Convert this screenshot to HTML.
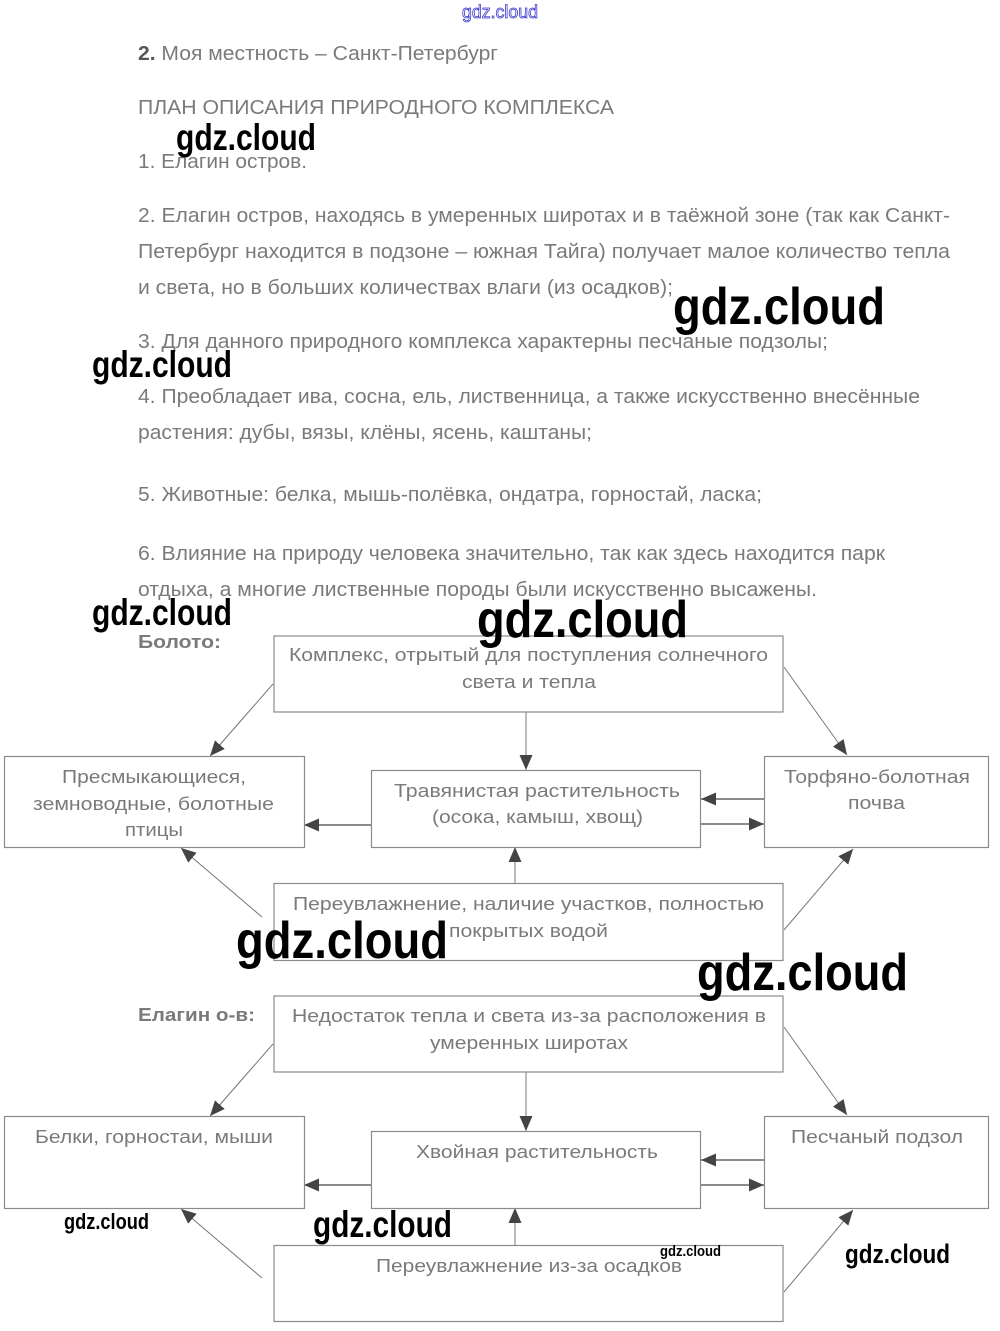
<!DOCTYPE html>
<html><head><meta charset="utf-8"><style>
html,body{margin:0;padding:0;background:#fff;}
svg{display:block;}
text{font-family:"Liberation Sans","DejaVu Sans",sans-serif;}
.b{fill:#7a7a7a;font-size:20px;}
.d{fill:#7a7a7a;font-size:18px;}
.w{fill:#000;font-weight:bold;}
.box{fill:#fff;stroke:#8a8a8a;stroke-width:1.2;}
.ln{stroke:#777;stroke-width:1;fill:none;}
.lh{stroke:#666;stroke-width:1.4;fill:none;}
</style></head><body>
<svg width="1000" height="1331" viewBox="0 0 1000 1331" xmlns="http://www.w3.org/2000/svg">
<defs>
<marker id="ah" markerUnits="userSpaceOnUse" markerWidth="16" markerHeight="14" refX="15" refY="6.5" orient="auto">
<path d="M0,0 L15,6.5 L0,13 z" fill="#444"/>
</marker>
</defs>
<rect width="1000" height="1331" fill="#fff"/>

<!-- top blue watermark -->
<text x="462" y="18" font-size="18" fill="#fff" stroke="#3a3acc" stroke-width="0.8" textLength="76" lengthAdjust="spacingAndGlyphs">gdz.cloud</text>

<!-- body text -->
<text class="b" x="138" y="60" textLength="360" lengthAdjust="spacingAndGlyphs"><tspan font-weight="bold" fill="#555">2.</tspan> Моя местность – Санкт-Петербург</text>
<text class="b" x="138" y="114" textLength="476" lengthAdjust="spacingAndGlyphs">ПЛАН ОПИСАНИЯ ПРИРОДНОГО КОМПЛЕКСА</text>
<text class="b" x="138" y="168" textLength="169" lengthAdjust="spacingAndGlyphs">1. Елагин остров.</text>
<text class="b" x="138" y="222" textLength="812" lengthAdjust="spacingAndGlyphs">2. Елагин остров, находясь в умеренных широтах и в таёжной зоне (так как Санкт-</text>
<text class="b" x="138" y="258" textLength="812" lengthAdjust="spacingAndGlyphs">Петербург находится в подзоне – южная Тайга) получает малое количество тепла</text>
<text class="b" x="138" y="294" textLength="535" lengthAdjust="spacingAndGlyphs">и света, но в больших количествах влаги (из осадков);</text>
<text class="b" x="138" y="348" textLength="690" lengthAdjust="spacingAndGlyphs">3. Для данного природного комплекса характерны песчаные подзолы;</text>
<text class="b" x="138" y="403" textLength="782" lengthAdjust="spacingAndGlyphs">4. Преобладает ива, сосна, ель, лиственница, а также искусственно внесённые</text>
<text class="b" x="138" y="439" textLength="454" lengthAdjust="spacingAndGlyphs">растения: дубы, вязы, клёны, ясень, каштаны;</text>
<text class="b" x="138" y="501" textLength="624" lengthAdjust="spacingAndGlyphs">5. Животные: белка, мышь-полёвка, ондатра, горностай, ласка;</text>
<text class="b" x="138" y="560" textLength="747" lengthAdjust="spacingAndGlyphs">6. Влияние на природу человека значительно, так как здесь находится парк</text>
<text class="b" x="138" y="596" textLength="679" lengthAdjust="spacingAndGlyphs">отдыха, а многие лиственные породы были искусственно высажены.</text>

<!-- ===== Diagram 1: Болото ===== -->
<text class="d" x="138" y="648" font-weight="bold" fill="#777" textLength="83" lengthAdjust="spacingAndGlyphs">Болото:</text>

<!-- connectors -->
<line class="ln" x1="273" y1="684" x2="210" y2="756" marker-end="url(#ah)"/>
<line class="ln" x1="784" y1="667" x2="847" y2="755" marker-end="url(#ah)"/>
<line class="ln" x1="262" y1="917" x2="181" y2="848" marker-end="url(#ah)"/>
<line class="ln" x1="784" y1="930" x2="853" y2="849" marker-end="url(#ah)"/>
<line class="ln" x1="526" y1="712" x2="526" y2="770" marker-end="url(#ah)"/>
<line class="ln" x1="515" y1="883" x2="515" y2="847" marker-end="url(#ah)"/>
<line class="lh" x1="371" y1="825" x2="304" y2="825" marker-end="url(#ah)"/>
<line class="lh" x1="764" y1="799" x2="701" y2="799" marker-end="url(#ah)"/>
<line class="lh" x1="701" y1="824" x2="764" y2="824" marker-end="url(#ah)"/>

<!-- boxes -->
<rect class="box" x="274" y="636" width="509" height="76"/>
<rect class="box" x="4.5" y="756.5" width="300" height="91"/>
<rect class="box" x="371.5" y="770.5" width="329" height="77"/>
<rect class="box" x="764.5" y="756.5" width="224" height="91"/>
<rect class="box" x="274" y="883.5" width="509" height="77"/>

<text class="d" x="289" y="661" textLength="479" lengthAdjust="spacingAndGlyphs">Комплекс, отрытый для поступления солнечного</text>
<text class="d" x="462" y="688" textLength="134" lengthAdjust="spacingAndGlyphs">света и тепла</text>
<text class="d" x="62" y="783" textLength="184" lengthAdjust="spacingAndGlyphs">Пресмыкающиеся,</text>
<text class="d" x="33" y="810" textLength="241" lengthAdjust="spacingAndGlyphs">земноводные, болотные</text>
<text class="d" x="125" y="836" textLength="58" lengthAdjust="spacingAndGlyphs">птицы</text>
<text class="d" x="394" y="797" textLength="286" lengthAdjust="spacingAndGlyphs">Травянистая растительность</text>
<text class="d" x="432" y="823" textLength="211" lengthAdjust="spacingAndGlyphs">(осока, камыш, хвощ)</text>
<text class="d" x="784" y="783" textLength="186" lengthAdjust="spacingAndGlyphs">Торфяно-болотная</text>
<text class="d" x="848" y="809" textLength="57" lengthAdjust="spacingAndGlyphs">почва</text>
<text class="d" x="293" y="910" textLength="471" lengthAdjust="spacingAndGlyphs">Переувлажнение, наличие участков, полностью</text>
<text class="d" x="449" y="937" textLength="159" lengthAdjust="spacingAndGlyphs">покрытых водой</text>

<!-- ===== Diagram 2: Елагин о-в ===== -->
<text class="d" x="138" y="1021" font-weight="bold" fill="#777" textLength="117" lengthAdjust="spacingAndGlyphs">Елагин о-в:</text>

<line class="ln" x1="273" y1="1044" x2="210" y2="1116" marker-end="url(#ah)"/>
<line class="ln" x1="784" y1="1027" x2="847" y2="1115" marker-end="url(#ah)"/>
<line class="ln" x1="262" y1="1278" x2="181" y2="1209" marker-end="url(#ah)"/>
<line class="ln" x1="784" y1="1292" x2="853" y2="1210" marker-end="url(#ah)"/>
<line class="ln" x1="526" y1="1072" x2="526" y2="1131" marker-end="url(#ah)"/>
<line class="ln" x1="515" y1="1245" x2="515" y2="1208" marker-end="url(#ah)"/>
<line class="lh" x1="371" y1="1185" x2="304" y2="1185" marker-end="url(#ah)"/>
<line class="lh" x1="764" y1="1160" x2="701" y2="1160" marker-end="url(#ah)"/>
<line class="lh" x1="701" y1="1185" x2="764" y2="1185" marker-end="url(#ah)"/>

<rect class="box" x="274" y="996" width="509" height="76"/>
<rect class="box" x="4.5" y="1116.5" width="300" height="92"/>
<rect class="box" x="371.5" y="1131.5" width="329" height="77"/>
<rect class="box" x="764.5" y="1116.5" width="224" height="92"/>
<rect class="box" x="274" y="1245.5" width="509" height="76"/>

<text class="d" x="292" y="1022" textLength="474" lengthAdjust="spacingAndGlyphs">Недостаток тепла и света из-за расположения в</text>
<text class="d" x="430" y="1049" textLength="198" lengthAdjust="spacingAndGlyphs">умеренных широтах</text>
<text class="d" x="35" y="1143" textLength="238" lengthAdjust="spacingAndGlyphs">Белки, горностаи, мыши</text>
<text class="d" x="416" y="1158" textLength="242" lengthAdjust="spacingAndGlyphs">Хвойная растительность</text>
<text class="d" x="791" y="1143" textLength="172" lengthAdjust="spacingAndGlyphs">Песчаный подзол</text>
<text class="d" x="376" y="1272" textLength="306" lengthAdjust="spacingAndGlyphs">Переувлажнение из-за осадков</text>

<!-- watermarks -->
<text class="w" x="176" y="150" font-size="37" textLength="140" lengthAdjust="spacingAndGlyphs">gdz.cloud</text>
<text class="w" x="673" y="324" font-size="52" textLength="212" lengthAdjust="spacingAndGlyphs">gdz.cloud</text>
<text class="w" x="92" y="377" font-size="37" textLength="140" lengthAdjust="spacingAndGlyphs">gdz.cloud</text>
<text class="w" x="92" y="625" font-size="37" textLength="140" lengthAdjust="spacingAndGlyphs">gdz.cloud</text>
<text class="w" x="477" y="637" font-size="52" textLength="211" lengthAdjust="spacingAndGlyphs">gdz.cloud</text>
<text class="w" x="236" y="958" font-size="52" textLength="212" lengthAdjust="spacingAndGlyphs">gdz.cloud</text>
<text class="w" x="697" y="990" font-size="52" textLength="211" lengthAdjust="spacingAndGlyphs">gdz.cloud</text>
<text class="w" x="64" y="1229" font-size="22" textLength="85" lengthAdjust="spacingAndGlyphs">gdz.cloud</text>
<text class="w" x="313" y="1237" font-size="37" textLength="139" lengthAdjust="spacingAndGlyphs">gdz.cloud</text>
<text class="w" x="660" y="1256" font-size="15" textLength="61" lengthAdjust="spacingAndGlyphs">gdz.cloud</text>
<text class="w" x="845" y="1263" font-size="27" textLength="105" lengthAdjust="spacingAndGlyphs">gdz.cloud</text>
</svg>
</body></html>
